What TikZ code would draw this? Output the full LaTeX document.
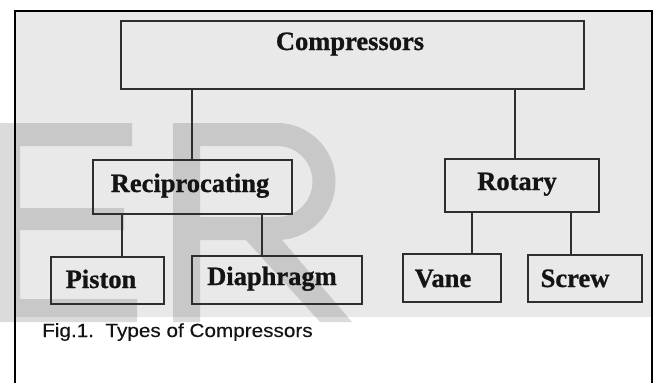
\documentclass[tikz,border=0pt]{standalone}
\usepackage{fontspec}
\usepackage{graphicx}
\setmainfont{Liberation Serif}[BoldFeatures={FakeBold=0.9}]
\newfontfamily\captionsans{Liberation Sans}[FakeBold=0.3]

\definecolor{scanbg}{gray}{0.915}
\definecolor{inkline}{gray}{0.18}
\definecolor{inktext}{gray}{0.08}

\tikzset{
  box/.style={rectangle, draw=inkline, line width=1.9pt, inner sep=0pt, outer sep=0pt},
  boxtext/.style={font=\fontsize{26.5}{30}\selectfont\bfseries, text=inktext, anchor=base, inner sep=0pt},
  link/.style={draw=inkline, line width=1.9pt},
  frame/.style={draw=black, line width=1.4pt},
}

\begin{document}
\begin{tikzpicture}[x=1pt, y=-1pt]
\useasboundingbox (0,0) rectangle (657,383);

% shaded panel behind the chart
\fill[scanbg] (15,11) rectangle (652,317);

% large translucent letters "ER"
\fill[black, fill opacity=0.14, even odd rule]
  % E
  (-5,123) rectangle (20,322)
  (20,123) rectangle (132,146)
  (20,208) rectangle (124,230)
  (20,299) rectangle (137,322)
  % R: stem
  (173,123) rectangle (200,322)
  % R: bowl
  (200,123) -- (277,123) arc[start angle=-90, end angle=90, radius=58.5] -- (200,240) -- cycle
  (200,146) -- (277,146) arc[start angle=-90, end angle=90, radius=35.5] -- (200,217) -- cycle
  % R: leg
  (246,240) -- (282,240) -- (352,322) -- (320,322) -- cycle;

% outer frame, open at the bottom
\draw[frame] (15,383) -- (15,11) -- (652,11) -- (652,383);

% boxes
\node[box, minimum width=463pt, minimum height=68pt] (comp)   at (352.5,55)  {};
\node[box, minimum width=199pt, minimum height=54pt] (recip)  at (192.5,187) {};
\node[box, minimum width=154pt, minimum height=53pt] (rotary) at (522,185.5) {};
\node[box, minimum width=113pt, minimum height=47pt] (piston) at (107.5,280.5) {};
\node[box, minimum width=170pt, minimum height=48pt] (diaph)  at (277,280)   {};
\node[box, minimum width=98pt,  minimum height=48pt] (vane)   at (452,278)   {};
\node[box, minimum width=114pt, minimum height=47pt] (screw)  at (585,278.5) {};

% box labels
\node[boxtext] (tcomp)   at (350,50)  {Compressors};
\node[boxtext] (trecip)  at (190,192) {Reciprocating};
\node[boxtext] (trotary) at (517,190) {Rotary};
\node[boxtext] (tpiston) at (101,288) {Piston};
\node[boxtext] (tdiaph)  at (272,285) {Diaphragm};
\node[boxtext] (tvane)   at (443,287) {Vane};
\node[boxtext] (tscrew)  at (575,287) {Screw};

% connector columns
\coordinate (xa) at (192,0);
\coordinate (xb) at (515,0);
\coordinate (xc) at (122,0);
\coordinate (xd) at (262,0);
\coordinate (xe) at (472,0);
\coordinate (xf) at (571,0);

\draw[link] (comp.south -| xa)   -- (recip.north -| xa);
\draw[link] (comp.south -| xb)   -- (rotary.north -| xb);
\draw[link] (recip.south -| xc)  -- (piston.north -| xc);
\draw[link] (recip.south -| xd)  -- (diaph.north -| xd);
\draw[link] (rotary.south -| xe) -- (vane.north -| xe);
\draw[link] (rotary.south -| xf) -- (screw.north -| xf);

% caption
\node[anchor=base west, inner sep=0pt, text=inktext, font=\captionsans\fontsize{19}{22}\selectfont]
  (cap) at (42,337) {\scalebox{1.09}[1]{Fig.1.\ \ Types of Compressors}};
\end{tikzpicture}
\end{document}
